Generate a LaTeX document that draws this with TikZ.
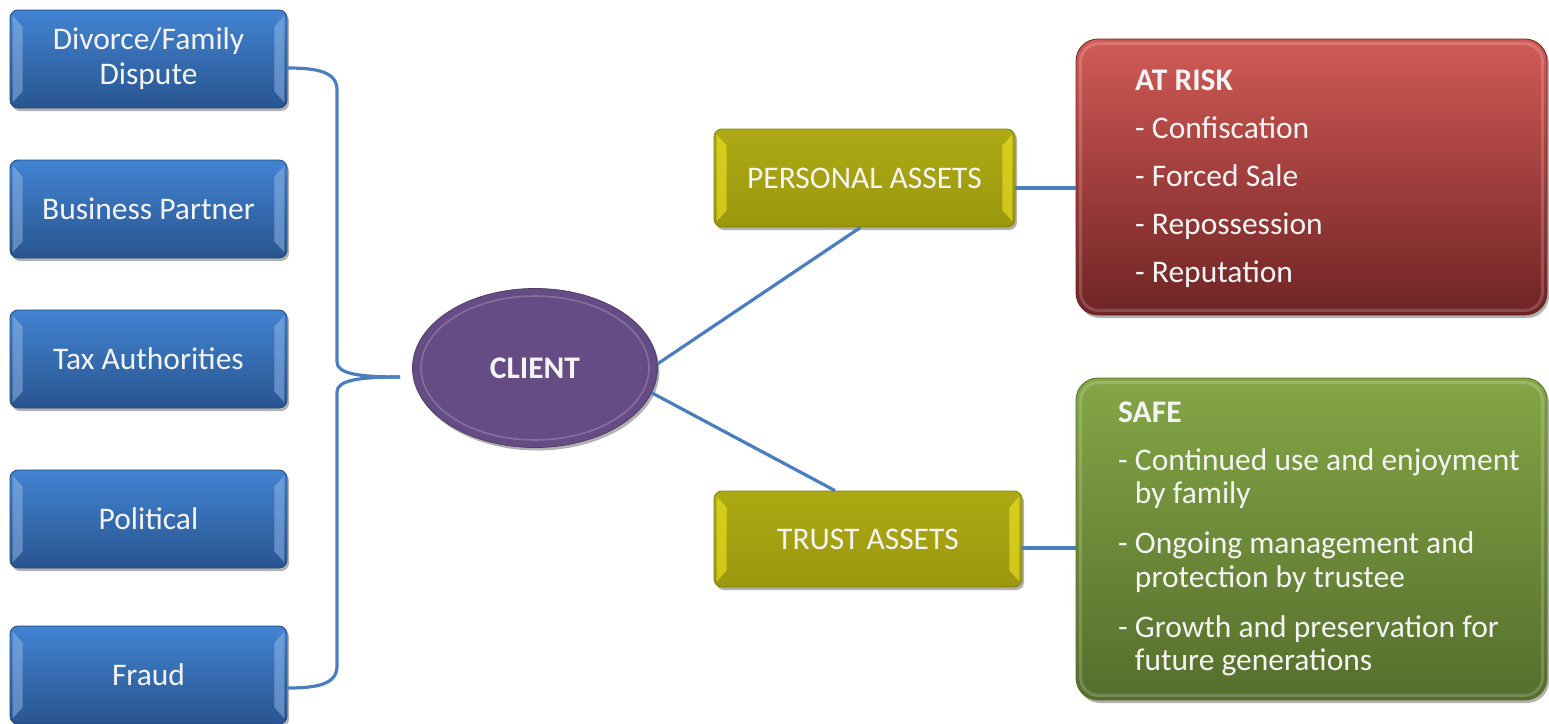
\documentclass[tikz,border=0pt]{standalone}
\usepackage{fontspec}
\setmainfont{Carlito}
\usetikzlibrary{shapes.geometric,shadows,calc}
\definecolor{linkc}{HTML}{4A7EBE}
\definecolor{bluetop}{HTML}{4283D2}
\definecolor{bluebot}{HTML}{28558F}
\definecolor{olivetop}{HTML}{AEAA14}
\definecolor{olivebot}{HTML}{9A970E}
\definecolor{redtop}{HTML}{D25A55}
\definecolor{redbot}{HTML}{6E2424}
\definecolor{greentop}{HTML}{84A646}
\definecolor{greenbot}{HTML}{556E2C}
\definecolor{clientc}{HTML}{654C84}
\definecolor{txt}{HTML}{F4F4F4}
\newcommand\sidebevel[2]{%
  \fill[#2, opacity=0.5] ($(#1.north west)+(3,6)$) -- ($(#1.north west)+(13,17)$) -- ($(#1.south west)+(13,-17)$) -- ($(#1.south west)+(3,-6)$) -- cycle;
  \fill[#2, opacity=0.5] ($(#1.north east)+(-3,6)$) -- ($(#1.north east)+(-13,17)$) -- ($(#1.south east)+(-13,-17)$) -- ($(#1.south east)+(-3,-6)$) -- cycle;}
\tikzset{
  shadowed/.style={drop shadow={shadow xshift=2pt, shadow yshift=-3pt, opacity=0.3, fill=black}},
  bluebox/.style={rectangle, rounded corners=8pt, minimum width=277pt, minimum height=98pt, inner sep=0pt,
    top color=bluetop, bottom color=bluebot, draw=bluebot!85!black, line width=0.8pt, text=txt,
    font=\fontsize{31.5}{35}\selectfont, align=center, shadowed},
  olivebox/.style={rectangle, rounded corners=8pt, minimum height=98pt, inner sep=0pt,
    top color=olivetop, bottom color=olivebot, draw=olivebot!85!black, line width=0.8pt, text=txt,
    font=\fontsize{31.5}{35}\selectfont, shadowed},
  bigbox/.style={rectangle, rounded corners=22pt, minimum width=471pt, inner sep=0pt, line width=0.8pt, shadowed},
  listtext/.style={anchor=north west, inner sep=0pt, text=txt, align=left},
  link/.style={draw=linkc, line width=3.2pt},
}
\begin{document}
\begin{tikzpicture}[x=1pt,y=-1pt]
\useasboundingbox (0,0) rectangle (1549,723);
% left boxes
\node[bluebox] (d1) at (148.5,59) {Divorce/Family\\Dispute};
\node[bluebox] (d2) at (148.5,209) {Business Partner};
\node[bluebox] (d3) at (148.5,359) {Tax Authorities};
\node[bluebox] (d4) at (148.5,519) {Political};
\node[bluebox] (d5) at (148.5,675) {Fraud};
\foreach \n in {d1,d2,d3,d4,d5} {\sidebevel{\n}{bluetop!55!white}}
% client
\node[ellipse, minimum width=245pt, minimum height=159pt, inner sep=0pt, fill=clientc, draw=clientc!80!black,
  line width=0.8pt, shadowed, text=txt, font=\fontsize{31.5}{35}\selectfont\bfseries] (client) at (535,368) {CLIENT};
\draw[clientc!60!white, line width=1.6pt, opacity=0.5] (client.center) ellipse [x radius=114, y radius=72];
% asset boxes
\node[olivebox, minimum width=301pt] (pa) at (864.5,178) {PERSONAL ASSETS};
\node[olivebox, minimum width=308pt, minimum height=96pt] (ta) at (868,539) {TRUST ASSETS};
\sidebevel{pa}{yellow!85!white}
\sidebevel{ta}{yellow!85!white}
% outcome boxes
\node[bigbox, minimum height=276pt, top color=redtop, bottom color=redbot, draw=redbot] (ar) at (1311.5,177) {};
\node[bigbox, minimum height=322pt, top color=greentop, bottom color=greenbot, draw=greenbot] (sf) at (1311.5,539) {};
\draw[white, opacity=0.18, line width=3pt, rounded corners=18pt] ($(ar.north west)+(5,5)$) rectangle ($(ar.south east)+(-5,-5)$);
\draw[white, opacity=0.18, line width=3pt, rounded corners=18pt] ($(sf.north west)+(5,5)$) rectangle ($(sf.south east)+(-5,-5)$);
\node[listtext, font=\fontsize{31.5}{48}\selectfont] (artext) at (1135,70)
  {\textbf{AT RISK}\\- Confiscation\\- Forced Sale\\- Repossession\\- Reputation};
\node[listtext, font=\fontsize{31.5}{33.5}\selectfont] (sftext) at (1118,402)
  {\textbf{SAFE}\\[14pt]- Continued use and enjoyment\\\hphantom{- }by family\\[16.5pt]- Ongoing management and\\\hphantom{- }protection by trustee\\[16.5pt]- Growth and preservation for\\\hphantom{- }future generations};
% connectors
\coordinate (bp) at (400,377);
\draw[link] ($(d1.east)+(0,9)$) .. controls (318,68) and (337,72) .. (337,90) -- (337,362) .. controls (337,374) and (360,377) .. (bp);
\draw[link] ($(d5.east)+(0,13)$) .. controls (318,688) and (337,684) .. (337,666) -- (337,392) .. controls (337,380) and (360,377) .. (bp);
\draw[link] (client.2) -- ($(pa.south)+(-4,0)$);
\draw[link] (client.-12) -- ($(ta.north)+(-33,0)$);
\coordinate (pa1) at ($(pa.east)+(0,10)$);
\draw[link] (pa1) -- (pa1 -| ar.west);
\coordinate (ta1) at ($(ta.east)+(0,9)$);
\draw[link] (ta1) -- (ta1 -| sf.west);
\end{tikzpicture}
\end{document}
